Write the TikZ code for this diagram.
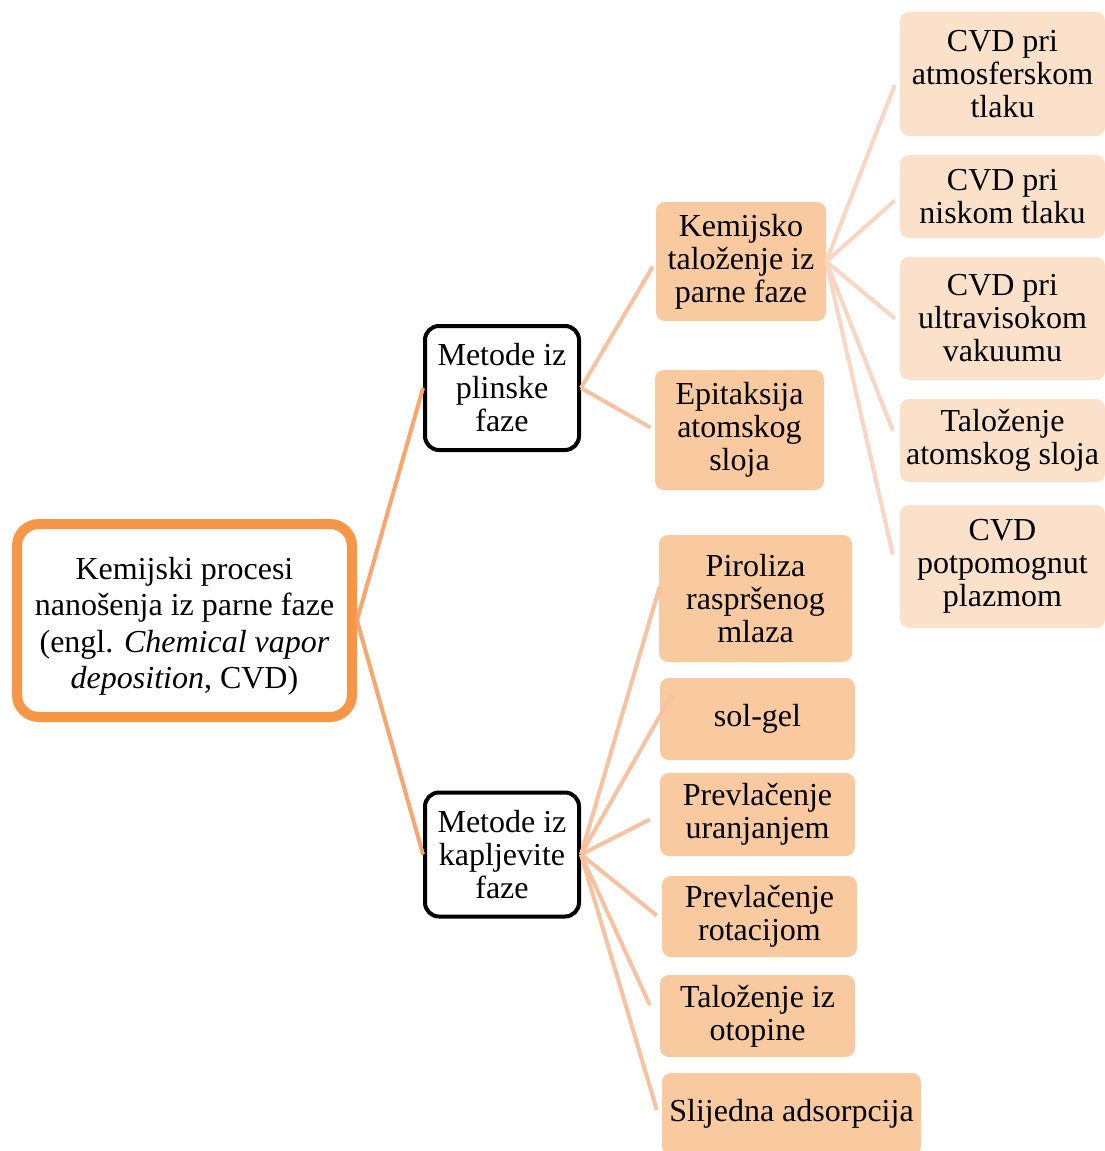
\documentclass[tikz,border=0pt]{standalone}
\usepackage{fontspec}
\setmainfont{Liberation Serif}

\definecolor{rootorange}{HTML}{F79646}
\definecolor{rootlinkcol}{HTML}{F8A66D}
\definecolor{midpeach}{HTML}{F9C9A0}
\definecolor{midlinkcol}{HTML}{F8C2A0}
\definecolor{lightpeach}{HTML}{FBE0CA}
\definecolor{lightlinkcol}{HTML}{F9D5C2}

\tikzset{
  boxfont/.style={font=\fontsize{32}{33}\selectfont},
  rootbox/.style={draw=rootorange, line width=10pt, rounded corners=22pt, fill=white,
    align=center, inner sep=0pt, minimum width=335pt, minimum height=193pt,
    font=\fontsize{32}{36.5}\selectfont},
  phasebox/.style={draw=black, line width=4pt, rounded corners=14pt, fill=white,
    align=center, inner sep=0pt, minimum width=154pt, minimum height=124pt, boxfont},
  methodbox/.style={fill=midpeach, rounded corners=9pt, align=center, inner sep=0pt, boxfont},
  variantbox/.style={fill=lightpeach, rounded corners=9pt, align=center, inner sep=0pt,
    minimum width=205pt, boxfont},
  rootlink/.style={draw=rootlinkcol, line width=4pt},
  midlink/.style={draw=midlinkcol, line width=4pt},
  lightlink/.style={draw=lightlinkcol, line width=4pt}
}

\begin{document}
\begin{tikzpicture}[x=1pt, y=-1pt]

  \useasboundingbox (0,0) rectangle (1105,1151);

  % root and the two phases
  \node[rootbox] (root) at (184.5,620.5)
    {\raisebox{-6pt}[\height][\depth]{\begin{tabular}{@{}c@{}}Kemijski procesi\\nanošenja iz parne faze\\(engl. \textit{Chemical vapor}\\\textit{deposition}, CVD)\end{tabular}}};
  \node[phasebox] (plinske) at (502,388) {Metode iz\\plinske\\faze};
  \node[phasebox] (kapljevite) at (502,854.5) {Metode iz\\kapljevite\\faze};

  % gas phase methods
  \node[methodbox, minimum width=170pt, minimum height=119pt] (kemijsko) at (741,261.5)
    {Kemijsko\\taloženje iz\\parne faze};
  \node[methodbox, minimum width=169pt, minimum height=120pt] (epitaksija) at (739.5,430)
    {Epitaksija\\atomskog\\sloja};

  % CVD variants
  \node[variantbox, minimum height=124pt] (atmos) at (1002.5,74) {CVD pri\\atmosferskom\\tlaku};
  \node[variantbox, minimum height=83pt] (nisko) at (1002.5,196.5) {CVD pri\\niskom tlaku};
  \node[variantbox, minimum height=123pt] (ultra) at (1002.5,318.5) {CVD pri\\ultravisokom\\vakuumu};
  \node[variantbox, minimum height=83pt] (ald) at (1002.5,440.5) {Taloženje\\atomskog sloja};
  \node[variantbox, minimum height=123pt] (plazma) at (1002.5,566.5) {CVD\\potpomognut\\plazmom};

  % liquid phase methods
  \node[methodbox, minimum width=193pt, minimum height=127pt] (piroliza) at (755.5,598.5)
    {Piroliza\\raspršenog\\mlaza};
  \node[methodbox, minimum width=195pt, minimum height=82pt] (solgel) at (757.5,719) {sol-gel};
  \node[methodbox, minimum width=195pt, minimum height=83pt] (uranjanje) at (757.5,814.5)
    {Prevlačenje\\uranjanjem};
  \node[methodbox, minimum width=195pt, minimum height=81pt] (rotacija) at (759.5,916.5)
    {Prevlačenje\\rotacijom};
  \node[methodbox, minimum width=195pt, minimum height=82pt] (otopina) at (757.5,1016)
    {Taloženje iz\\otopine};
  \node[methodbox, minimum width=259pt, minimum height=82pt] (slijedna) at (791.5,1114)
    {Slijedna adsorpcija};

  % connectors
  \draw[rootlink] (root.east) -- (plinske.west);
  \draw[rootlink] (root.east) -- (kapljevite.west);

  \draw[midlink, shorten >=6pt] (plinske.east) -- (kemijsko.west);
  \draw[midlink, shorten >=5pt] (plinske.east) -- (epitaksija.west);

  \draw[lightlink] (kemijsko.east) -- ([xshift=-5pt, yshift=-11pt]atmos.west);
  \draw[lightlink] (kemijsko.east) -- ([xshift=-5pt, yshift=-4pt]nisko.west);
  \draw[lightlink] (kemijsko.east) -- ([xshift=-5pt]ultra.west);
  \draw[lightlink] (kemijsko.east) -- ([xshift=-7pt, yshift=10pt]ald.west);
  \draw[lightlink] (kemijsko.east) -- ([xshift=-7pt, yshift=12pt]plazma.west);

  \draw[midlink] (kapljevite.east) -- ([xshift=1pt, yshift=12pt]piroliza.west);
  \draw[midlink] (kapljevite.east) -- ([xshift=12pt, yshift=24pt]solgel.west);
  \draw[midlink] (kapljevite.east) -- ([xshift=-10pt, yshift=-5pt]uranjanje.west);
  \draw[midlink] (kapljevite.east) -- ([xshift=-5pt, yshift=1pt]rotacija.west);
  \draw[midlink] (kapljevite.east) -- ([xshift=-10pt, yshift=11pt]otopina.west);
  \draw[midlink] (kapljevite.east) -- ([xshift=-5pt, yshift=4pt]slijedna.west);

\end{tikzpicture}
\end{document}
